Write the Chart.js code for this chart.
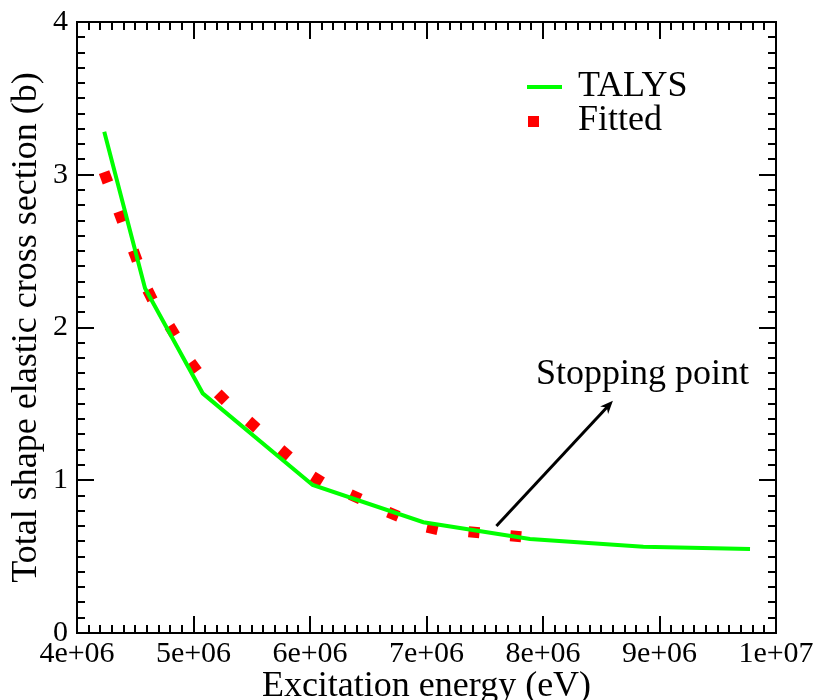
<!DOCTYPE html>
<html lang="en">
<head>
    <meta charset="UTF-8">
    <title>Total shape elastic cross section</title>
    <script src="https://cdn.jsdelivr.net/npm/chart.js@4.4.1/dist/chart.umd.min.js"></script>
    <style>
        html, body { margin: 0; padding: 0; background: #fff; }
        #wrap { width: 813px; height: 700px; }
    </style>
</head>
<body>
<div id="wrap"><canvas id="myChart" width="813" height="700"></canvas></div>
<script>
// TALYS curve (eV, barn)
const talysEnergy = [4.234e6, 4.584e6, 5.079e6, 6.023e6, 6.973e6, 7.888e6, 8.861e6, 9.777e6];
const talysXs     = [3.282, 2.257, 1.569, 0.969, 0.725, 0.615, 0.565, 0.550];

// Fitted points
const fittedEnergy = [4.249e6, 4.375e6, 4.500e6, 4.627e6, 4.818e6, 5.004e6, 5.242e6, 5.508e6,
                      5.785e6, 6.063e6, 6.389e6, 6.715e6, 7.050e6, 7.408e6, 7.766e6];
const fittedXs     = [2.983, 2.725, 2.470, 2.213, 1.979, 1.743, 1.543, 1.364,
                      1.178, 1.006, 0.892, 0.777, 0.685, 0.659, 0.633];

// tick labels
const xTickValues = [4e6, 5e6, 6e6, 7e6, 8e6, 9e6, 1e7];
const xTickLabels = ['4e+06', '5e+06', '6e+06', '7e+06', '8e+06', '9e+06', '1e+07'];
const yTickValues = [0, 1, 2, 3, 4];
const yTickLabels = ['0', '1', '2', '3', '4'];

const seriesNames = ['TALYS', 'Fitted'];
const annotationText = 'Stopping point';
// annotation anchor points in data units
const arrowFrom = { x: 7.6e6, y: 0.70 };
const arrowTo = { x: 8.6e6, y: 1.52 };
const textAt = { x: 7.94e6, y: 1.63 };

const FONT = "'Liberation Serif', 'Times New Roman', serif";
const GREEN = '#00ff00';
const RED = '#ff0000';

// frame + inward ticks on all four sides
const framePlugin = {
    id: 'frame',
    afterDraw(chart) {
        const { ctx, chartArea: a, scales: { x, y } } = chart;
        ctx.save();
        ctx.strokeStyle = '#000';
        ctx.lineWidth = 2;
        ctx.beginPath();
        for (let i = 0; i <= 60; i++) {
            const v = 4e6 + i * 1e5;
            const px = Math.round(x.getPixelForValue(v));
            const len = i % 10 === 0 ? 17 : 8;
            ctx.moveTo(px, a.bottom); ctx.lineTo(px, a.bottom - len);
            ctx.moveTo(px, a.top); ctx.lineTo(px, a.top + len);
        }
        for (let i = 0; i <= 40; i++) {
            const py = Math.round(y.getPixelForValue(i / 10));
            const len = i % 10 === 0 ? 17 : 8;
            ctx.moveTo(a.left, py); ctx.lineTo(a.left + len, py);
            ctx.moveTo(a.right, py); ctx.lineTo(a.right - len, py);
        }
        ctx.stroke();
        ctx.strokeRect(a.left, a.top, a.right - a.left, a.bottom - a.top);
        ctx.restore();
    }
};

// legend and annotation
const notesPlugin = {
    id: 'notes',
    afterDatasetsDraw(chart) {
        const { ctx, scales: { x, y } } = chart;
        ctx.save();
        // legend
        ctx.strokeStyle = GREEN;
        ctx.lineWidth = 4;
        ctx.beginPath();
        ctx.moveTo(527, 87); ctx.lineTo(562, 87);
        ctx.stroke();
        ctx.fillStyle = RED;
        ctx.fillRect(528, 116, 11, 11);
        ctx.fillStyle = '#000';
        ctx.font = '36px ' + FONT;
        ctx.textBaseline = 'middle';
        ctx.textAlign = 'left';
        ctx.fillText(seriesNames[0], 578, 87);
        ctx.fillText(seriesNames[1], 578, 121);

        // arrow
        const x1 = x.getPixelForValue(arrowFrom.x), y1 = y.getPixelForValue(arrowFrom.y);
        const x2 = x.getPixelForValue(arrowTo.x), y2 = y.getPixelForValue(arrowTo.y);
        const ang = Math.atan2(y2 - y1, x2 - x1);
        ctx.strokeStyle = '#000';
        ctx.lineWidth = 3;
        ctx.beginPath();
        ctx.moveTo(x1, y1);
        ctx.lineTo(x2 - 8 * Math.cos(ang), y2 - 8 * Math.sin(ang));
        ctx.stroke();
        ctx.beginPath();
        ctx.moveTo(x2, y2);
        ctx.lineTo(x2 - 14 * Math.cos(ang - 0.4), y2 - 14 * Math.sin(ang - 0.4));
        ctx.lineTo(x2 - 9 * Math.cos(ang), y2 - 9 * Math.sin(ang));
        ctx.lineTo(x2 - 14 * Math.cos(ang + 0.4), y2 - 14 * Math.sin(ang + 0.4));
        ctx.closePath();
        ctx.fill();

        ctx.textBaseline = 'alphabetic';
        ctx.fillText(annotationText, x.getPixelForValue(textAt.x), y.getPixelForValue(textAt.y));
        ctx.restore();
    }
};

// rotate each fitted square along the local slope
function squareAngle(c) {
    const i = c.dataIndex;
    const sx = c.chart.scales.x, sy = c.chart.scales.y;
    if (!sx || !sy) return 0;
    const a = Math.max(0, i - 1), b = Math.min(fittedEnergy.length - 1, i + 1);
    const dx = sx.getPixelForValue(fittedEnergy[b]) - sx.getPixelForValue(fittedEnergy[a]);
    const dy = sy.getPixelForValue(fittedXs[b]) - sy.getPixelForValue(fittedXs[a]);
    return Math.atan2(dy, dx) * 180 / Math.PI;
}

const ctx = document.getElementById('myChart').getContext('2d');
new Chart(ctx, {
    type: 'scatter',
    data: {
        datasets: [
            {
                label: seriesNames[0],
                type: 'line',
                data: talysEnergy.map((e, i) => ({ x: e, y: talysXs[i] })),
                borderColor: GREEN,
                borderWidth: 4,
                pointRadius: 0,
                fill: false,
                tension: 0,
            },
            {
                label: seriesNames[1],
                data: fittedEnergy.map((e, i) => ({ x: e, y: fittedXs[i] })),
                pointStyle: 'rect',
                pointRadius: 7.8,
                pointRotation: squareAngle,
                backgroundColor: RED,
                borderWidth: 0,
                showLine: false,
            }
        ]
    },
    options: {
        responsive: false,
        animation: false,
        layout: { padding: { left: 0, right: 37, top: 22, bottom: 0 } },
        plugins: { legend: { display: false }, tooltip: { enabled: false } },
        scales: {
            x: {
                type: 'linear',
                min: 4e6,
                max: 1e7,
                afterBuildTicks: s => { s.ticks = xTickValues.map(v => ({ value: v })); },
                afterFit: s => { s.height = 67; s.paddingLeft = 0; s.paddingRight = 0; },
                grid: { display: false, drawTicks: false },
                border: { display: false },
                ticks: {
                    color: '#000',
                    font: { family: FONT, size: 30 },
                    padding: 3,
                    maxRotation: 0,
                    callback: v => xTickLabels[xTickValues.indexOf(v)],
                },
                title: {
                    display: true,
                    text: 'Excitation energy (eV)',
                    color: '#000',
                    font: { family: FONT, size: 36, lineHeight: 1 },
                    padding: { top: 0, bottom: -5 },
                },
            },
            y: {
                min: 0,
                max: 4,
                afterBuildTicks: s => { s.ticks = yTickValues.map(v => ({ value: v })); },
                afterFit: s => { s.width = 77; s.paddingTop = 0; s.paddingBottom = 0; },
                grid: { display: false, drawTicks: false },
                border: { display: false },
                ticks: {
                    color: '#000',
                    font: { family: FONT, size: 30 },
                    padding: 9,
                    callback: v => yTickLabels[yTickValues.indexOf(v)],
                },
                title: {
                    display: true,
                    text: 'Total shape elastic cross section (b)',
                    color: '#000',
                    font: { family: FONT, size: 36, lineHeight: 1 },
                    padding: { top: 9, bottom: 0 },
                },
            }
        }
    },
    plugins: [framePlugin, notesPlugin]
});
</script>
</body>
</html>
